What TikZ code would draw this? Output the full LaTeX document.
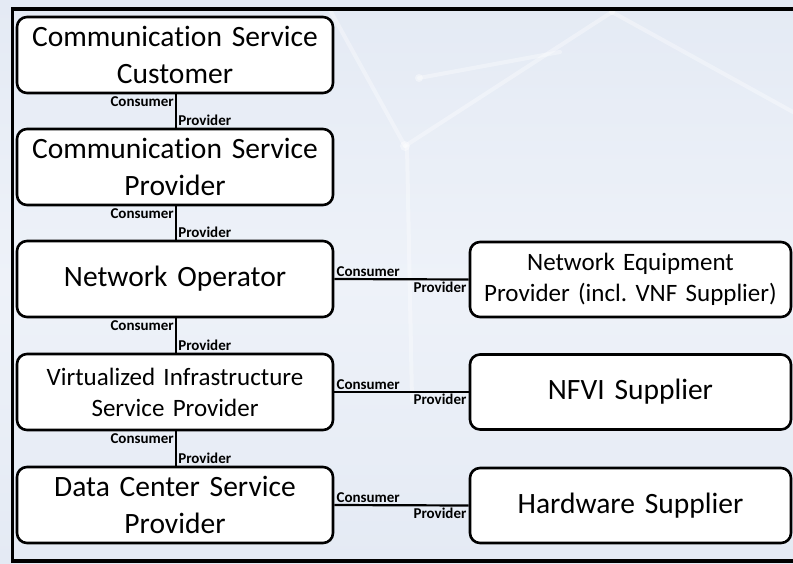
\documentclass[tikz,border=0pt]{standalone}
\usepackage{fontspec}
\setmainfont[Ligatures=CommonOff]{Carlito}
\frenchspacing
\definecolor{bgblue}{RGB}{228,234,244}
\definecolor{bglight}{RGB}{238,242,249}
\tikzset{
  role/.style={rounded corners=10pt, draw=black, line width=2.6pt, fill=white,
    inner sep=0pt, align=center},
  leftbox/.style={role, minimum width=316pt, minimum height=76pt, text width=310pt},
  rightbox/.style={role, minimum width=321pt, minimum height=75pt, text width=315pt},
  link/.style={line width=2.2pt, draw=black},
  tag/.style={font=\fontsize{15}{16}\selectfont\bfseries, inner sep=1.2pt},
  big/.style={font=\fontsize{29.5}{36.5}\selectfont},
  mid/.style={font=\fontsize{25}{31}\selectfont},
  net/.style={white, line width=4pt, opacity=0.35, line cap=round}
}
\begin{document}
\begin{tikzpicture}[x=1pt, y=-1pt]
  % canvas
  \useasboundingbox (0,0) rectangle (793,563);
  \shade[top color=bgblue, bottom color=bgblue, middle color=bglight] (0,0) rectangle (793,563);
  % faint network texture
  \draw[net] (405,146) -- (612,12) -- (793,112);
  \draw[net] (407,146) -- (412,400);
  \draw[net] (419,78) -- (560,52);
  \draw[net] (330,10) -- (405,146);
  \fill[white, opacity=0.4] (405,146) circle (5pt) (419,78) circle (4pt) (612,12) circle (3pt);
  % frame
  \draw[line width=3.5pt] (800,9) -- (12.5,9) -- (12.5,561) -- (800,561);

  % provider chain
  \node[leftbox, big] (csc)  at (175,55)  {Communication Service\\Customer};
  \node[leftbox, big] (csp)  at (175,167) {Communication Service\\Provider};
  \node[leftbox, big] (no)   at (175,279) {Network Operator};
  \node[leftbox, mid] (visp) at (175,392) {Virtualized Infrastructure\\Service Provider};
  \node[leftbox, big] (dcsp) at (175,505) {Data Center Service\\Provider};

  % suppliers
  \node[rightbox, mid] (nep)  at (630.5,279.5) {Network Equipment\\Provider (incl. VNF Supplier)};
  \node[rightbox, big] (nfvi) at (630.5,392)   {NFVI Supplier};
  \node[rightbox, big] (hw)   at (630.5,505.5) {Hardware Supplier};

  % vertical consumer/provider links
  \foreach \a/\b in {csc/csp, csp/no, no/visp, visp/dcsp}{
    \draw[link] ([xshift=1pt]\a.south) -- ([xshift=1pt]\b.north)
      node[tag, pos=0, anchor=north east] {Consumer}
      node[tag, pos=1, anchor=south west] {Provider};
  }
  % horizontal consumer/provider links
  \foreach \a/\b in {no/nep, visp/nfvi, dcsp/hw}{
    \draw[link] (\a.east) -- (\b.west)
      node[tag, pos=0, anchor=south west] {Consumer}
      node[tag, pos=1, anchor=north east] {Provider};
  }
\end{tikzpicture}
\end{document}
